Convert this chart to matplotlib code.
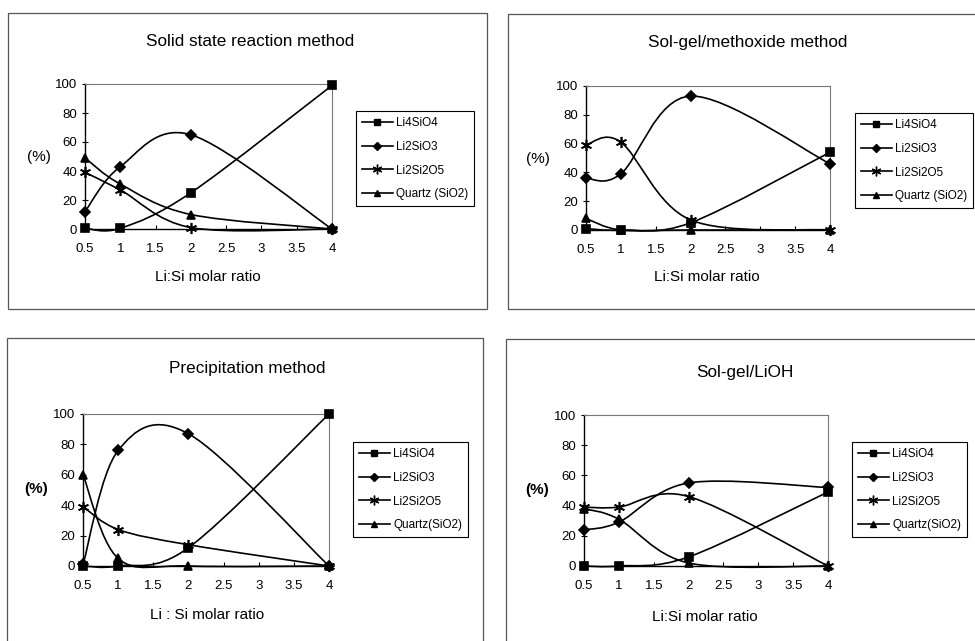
import matplotlib
matplotlib.use("Agg")
import matplotlib.pyplot as plt
from matplotlib.path import Path
from matplotlib.patches import PathPatch, Rectangle
from matplotlib.lines import Line2D

plt.rcParams['font.family'] = ['Liberation Sans', 'DejaVu Sans']

# Li:Si molar ratio (x) shared by every panel
ratio = [0.5, 1, 2, 4]
phases_top = ['Li4SiO4', 'Li2SiO3', 'Li2Si2O5', 'Quartz (SiO2)']
phases_bottom = ['Li4SiO4', 'Li2SiO3', 'Li2Si2O5', 'Quartz(SiO2)']

# phase content (%) per method
solid_li4sio4 = [0.5, 0.5, 25, 99]
solid_li2sio3 = [12, 43, 65, 0]
solid_li2si2o5 = [39, 27, 1, 0]
solid_quartz = [49, 31, 10, 0]

meth_li4sio4 = [1, 0, 5, 54]
meth_li2sio3 = [36, 39, 93, 46]
meth_li2si2o5 = [59, 61, 7, 0]
meth_quartz = [8, 0, 0, 0]

prec_li4sio4 = [0, 0, 12, 100]
prec_li2sio3 = [1, 76, 87, 0]
prec_li2si2o5 = [39, 24, 14, 0]
prec_quartz = [60, 5, 0, 0]

lioh_li4sio4 = [0, 0, 6, 49]
lioh_li2sio3 = [24, 29, 55, 52]
lioh_li2si2o5 = [39, 39, 46, 0]
lioh_quartz = [38, 31, 2, 0]

titles = ['Solid state reaction method', 'Sol-gel/methoxide method',
          'Precipitation method', 'Sol-gel/LiOH']
xlabels = ['Li:Si molar ratio', 'Li:Si molar ratio',
           'Li : Si molar ratio', 'Li:Si molar ratio']
xticks = [0.5, 1, 1.5, 2, 2.5, 3, 3.5, 4]
xticklabels = ['0.5', '1', '1.5', '2', '2.5', '3', '3.5', '4']
yticks = [0, 20, 40, 60, 80, 100]

panels = [
    [solid_li4sio4, solid_li2sio3, solid_li2si2o5, solid_quartz],
    [meth_li4sio4, meth_li2sio3, meth_li2si2o5, meth_quartz],
    [prec_li4sio4, prec_li2sio3, prec_li2si2o5, prec_quartz],
    [lioh_li4sio4, lioh_li2sio3, lioh_li2si2o5, lioh_quartz],
]

markers = ['s', 'D', (6, 2, 0), '^']
msizes = [6, 5, 8, 6]

W, H = 975, 641

# pixel layout: axes (left, right, top, bottom), frame, title, ylabel, xlabel, legend
layout = [
    dict(ax=(85, 332, 84, 229), frame=(8, 487, 13, 309), title=(250, 42),
         ylab=(39, 157), xlab=(208, 277), leg=(356, 111)),
    dict(ax=(586, 830, 86, 230), frame=(508, 985, 14, 309), title=(748, 43),
         ylab=(538, 159), xlab=(707, 277), leg=(855, 113)),
    dict(ax=(83, 329, 414, 566), frame=(7, 483, 338, 660), title=(247, 368),
         ylab=(36, 489), xlab=(207, 615), leg=(353, 442)),
    dict(ax=(584, 828, 415, 566), frame=(506, 985, 339, 660), title=(745, 372),
         ylab=(537, 490), xlab=(705, 617), leg=(852, 442)),
]


def fx(p):
    return p / W


def fy(p):
    return 1 - p / H


def smooth_path(xs, ys):
    # excel style smoothed line: cubic bezier segments through the points
    pts = list(zip(xs, ys))
    n = len(pts)
    verts = [pts[0]]
    codes = [Path.MOVETO]
    for i in range(n - 1):
        p0 = pts[i - 1] if i > 0 else pts[i]
        p1 = pts[i]
        p2 = pts[i + 1]
        p3 = pts[i + 2] if i + 2 < n else pts[i + 1]
        c1 = (p1[0] + (p2[0] - p0[0]) / 6, p1[1] + (p2[1] - p0[1]) / 6)
        c2 = (p2[0] - (p3[0] - p1[0]) / 6, p2[1] - (p3[1] - p1[1]) / 6)
        verts += [c1, c2, p2]
        codes += [Path.CURVE4] * 3
    return Path(verts, codes)


fig = plt.figure(figsize=(W / 100, H / 100), dpi=100)

for k in range(4):
    L = layout[k]
    l, r, t, b = L['ax']
    fl, fr, ft, fb = L['frame']
    fig.patches.append(Rectangle((fx(fl), fy(fb)), fx(fr - fl), (fb - ft) / H,
                                 transform=fig.transFigure, fill=False,
                                 edgecolor='#555555', linewidth=0.9))

    ax = fig.add_axes([fx(l), fy(b), (r - l) / W, (b - t) / H])
    for j in range(4):
        ys = panels[k][j]
        ax.add_patch(PathPatch(smooth_path(ratio, ys), fill=False,
                               edgecolor='black', linewidth=1.2, clip_on=False))
        ax.plot(ratio, ys, ls='none', marker=markers[j], ms=msizes[j],
                color='black', mew=1.2, clip_on=False, zorder=3)

    ax.set_xlim(0.5, 4)
    ax.set_ylim(0, 100)
    ax.set_xticks(xticks)
    ax.set_xticklabels(xticklabels)
    ax.set_yticks(yticks)
    ax.tick_params(axis='x', direction='in', length=3, labelsize=9.5, pad=10)
    ax.tick_params(axis='y', direction='inout', length=5, labelsize=9.5, pad=3)
    for s in ['top', 'right']:
        ax.spines[s].set_color('#777777')
        ax.spines[s].set_linewidth(0.8)
    for s in ['left', 'bottom']:
        ax.spines[s].set_linewidth(1.0)

    tx, ty = L['title']
    fig.text(fx(tx), fy(ty), titles[k], ha='center', va='center', fontsize=12.3)
    yx, yy = L['ylab']
    fig.text(fx(yx), fy(yy), '(%)', ha='center', va='center', fontsize=11,
             fontweight='bold' if k >= 2 else 'normal')
    xx, xy = L['xlab']
    fig.text(fx(xx), fy(xy), xlabels[k], ha='center', va='center', fontsize=11)

    handles = [Line2D([], [], color='black', lw=1.2, marker=markers[j],
                      ms=msizes[j] - 1, mew=1.0) for j in range(4)]
    lx, ly = L['leg']
    leg = ax.legend(handles, phases_top if k < 2 else phases_bottom,
                    loc='upper left', bbox_to_anchor=(fx(lx), fy(ly)),
                    bbox_transform=fig.transFigure, fontsize=8.5,
                    handlelength=2.6, handletextpad=0.3, labelspacing=1.0,
                    borderpad=0.5, borderaxespad=0, fancybox=False,
                    framealpha=1, edgecolor='black')
    leg.get_frame().set_linewidth(0.8)

fig.savefig('out.png', dpi=100)
